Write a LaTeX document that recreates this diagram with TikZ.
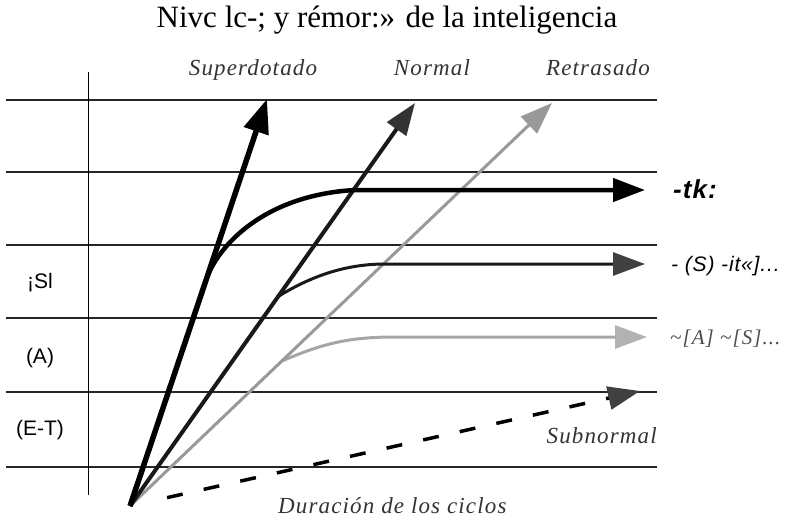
\documentclass[tikz,border=0pt]{standalone}
\usepackage{fontspec}
\setmainfont{Liberation Serif}
\setsansfont{Liberation Sans}
\newfontfamily\lblfont[LetterSpace=5]{Liberation Serif}
\newfontfamily\sidefont[LetterSpace=4]{Liberation Sans}
\usetikzlibrary{arrows.meta, calc}

\begin{document}
\begin{tikzpicture}[x=1pt, y=-1pt,
  grid line/.style={line width=1.3pt, black!85},
  cycle label/.style={font=\lblfont\itshape\fontsize{23}{26}\selectfont, text=black!80, inner sep=0pt, anchor=base},
  row label/.style={font=\sffamily\fontsize{21}{24}\selectfont, inner sep=0pt},
  side label/.style={font=\sidefont\fontsize{21}{24}\selectfont, inner sep=0pt, anchor=base west},
  tip/.style={-{Triangle[length=32pt, width=23pt, color=#1]}}]
\useasboundingbox (0,0) rectangle (785,517);

\coordinate (O) at (130,506);
\coordinate (Sup) at (267,99);
\coordinate (Nor) at (415,103);
\coordinate (Ret) at (552,103);
\coordinate (Sub) at (640,391);

\coordinate (B1) at ($(O)!0.555!(Sup)$);
\coordinate (B2) at ($(O)!0.52!(Nor)$);
\coordinate (B3) at ($(O)!0.36!(Ret)$);
\coordinate (K1) at (355,190);
\coordinate (K2) at (385,264);
\coordinate (K3) at (395,337);
\coordinate (E1) at (645,190);
\coordinate (E2) at (645,264);
\coordinate (E3) at (647,337);

\foreach \y in {100,172,245,318,392,467}
  \draw[grid line] (6,\y) -- (657,\y);
\draw[line width=1pt] (88,72) -- (88,495);

\node[anchor=base, font=\fontsize{31}{36}\selectfont] (title) at (387,27) {Nivc lc-; y rémor:» de la inteligencia};

\node[cycle label] (lsup) at (253,75) {Superdotado};
\node[cycle label] (lnor) at (432,75) {Normal};
\node[cycle label] (lret) at (598,75) {Retrasado};
\node[cycle label, anchor=base east] (lsub) at (657,443) {Subnormal};
\node[cycle label, anchor=base west] (ldur) at (278,513) {Duración de los ciclos};

\node[row label] (r1) at (40,283) {¡Sl};
\node[row label] (r2) at (40,358) {(A)};
\node[row label] (r3) at (40,430) {(E-T)};

\draw[tip=black!30, line width=3pt, black!35] (B3) .. controls (320,345) and (345,337) .. (K3) -- (E3);
\draw[tip=black!40, line width=3pt, black!40] (O) -- (Ret);
\draw[tip=black!75, line width=3pt, black!90] (B2) .. controls (305,280) and (340,264) .. (K2) -- (E2);
\draw[tip=black!80, line width=4pt, black!90] (O) -- (Nor);
\draw[tip=black, line width=4.5pt] (B1) .. controls (218,245) and (265,195) .. (K1) -- (E1);
\draw[-{Triangle[length=34pt, width=25pt]}, line width=5.5pt] (O) -- (Sup);
\draw[tip=black!75, line width=3.5pt, dash pattern=on 16pt off 21.5pt, shorten <=38pt] (O) -- (Sub);

\node[side label, font=\sidefont\bfseries\itshape\fontsize{26}{28}\selectfont] (s1) at (673,198) {-tk:};
\node[side label, font=\sidefont\itshape\fontsize{21}{24}\selectfont] (s2) at (671,271) {- (S) -it«]...};
\node[side label, font=\lblfont\itshape\fontsize{21}{24}\selectfont, text=black!70] (s3) at (670,344) {\textasciitilde[A] \textasciitilde[S]...};
\end{tikzpicture}
\end{document}
